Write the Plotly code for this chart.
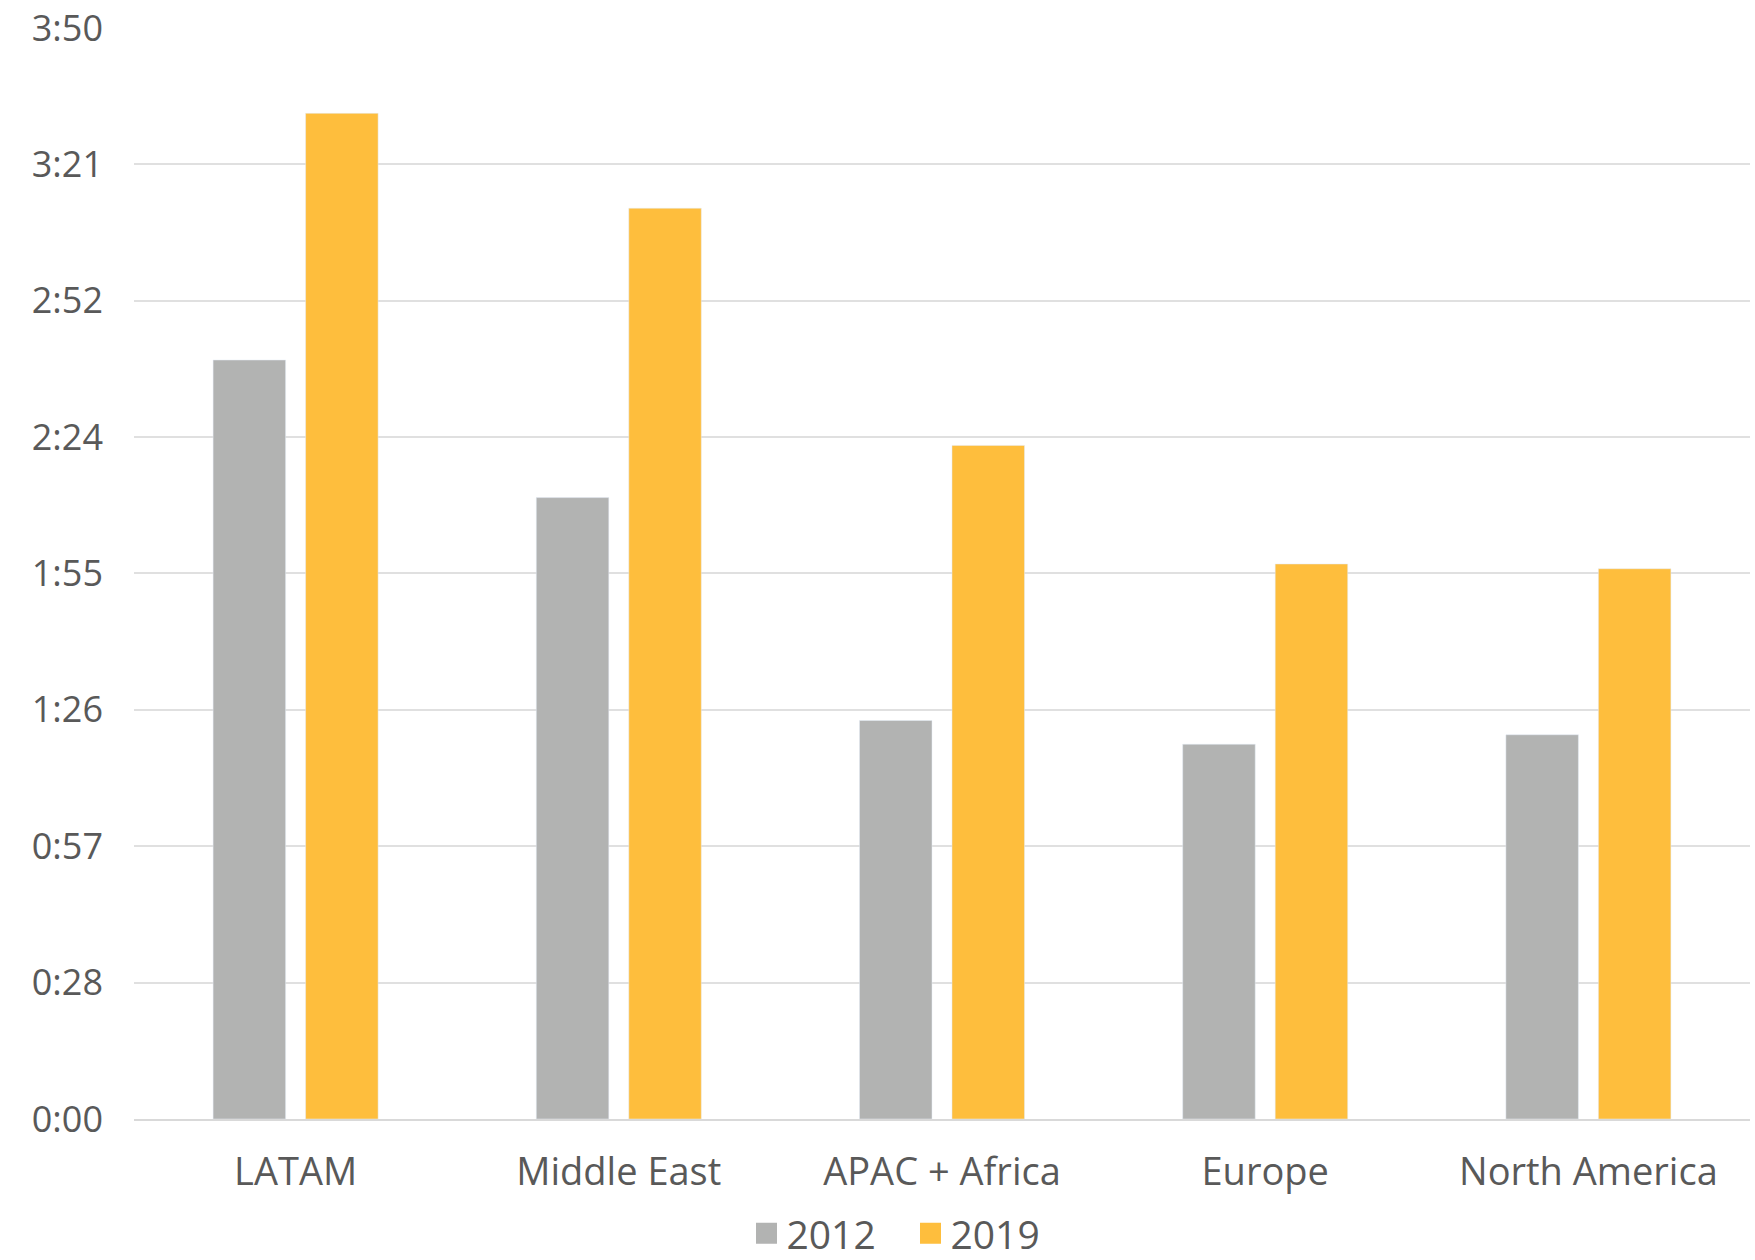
import plotly.graph_objects as go

regions = ["LATAM", "Middle East", "APAC + Africa", "Europe", "North America"]
# average durations in seconds
values_2012 = [160, 131, 84, 79, 81]
values_2019 = [212, 192, 142, 117, 116]
series_names = ["2012", "2019"]
series_colors = ["#b2b3b2", "#febe3d"]

y_tick_vals = [0, 28.75, 57.5, 86.25, 115, 143.75, 172.5, 201.25, 230]
y_tick_text = ["0:00", "0:28", "0:57", "1:26", "1:55", "2:24", "2:52", "3:21", "3:50"]

def mmss(s):
    return f"{int(s // 60)}:{int(round(s % 60)):02d}"

fig = go.Figure()
for name, vals, col in zip(series_names, [values_2012, values_2019], series_colors):
    fig.add_trace(go.Bar(
        x=regions, y=vals, name=name, marker_color=col, showlegend=False,
        customdata=[mmss(v) for v in vals],
        hovertemplate="%{x}<br>" + name + ": %{customdata}<extra></extra>",
    ))
# legend proxies (larger square symbols)
for name, col in zip(series_names, series_colors):
    fig.add_trace(go.Scatter(
        x=[None], y=[None], mode="markers", name=name,
        marker=dict(symbol="square", size=16, color=col, line=dict(color=col, width=5)),
        showlegend=True,
    ))

fig.update_layout(
    width=1755, height=1260,
    margin=dict(l=134, r=5, t=27, b=141, autoexpand=False),
    paper_bgcolor="white", plot_bgcolor="white",
    barmode="group", bargap=0.4276, bargroupgap=0.216,
    font=dict(family="Open Sans", color="#595959"),
    legend=dict(orientation="h", x=0.4805, xanchor="center", y=-0.1048, yanchor="middle",
                font=dict(size=39, color="#595959"), itemwidth=30, tracegroupgap=0,
                entrywidth=119),
    xaxis=dict(categoryorder="array", categoryarray=regions, showgrid=False,
               showline=True, linecolor="#d9d9d9", linewidth=2, ticks="",
               tickfont=dict(size=38, color="#595959"), ticklabelstandoff=18),
    yaxis=dict(range=[0, 230.2], tickvals=y_tick_vals, ticktext=y_tick_text,
               showgrid=True, gridcolor="#e0e0e0", gridwidth=2, zeroline=False,
               showline=False, ticks="", tickfont=dict(size=36, color="#595959"),
               ticklabelstandoff=30),
)

fig.write_html("out.html")
